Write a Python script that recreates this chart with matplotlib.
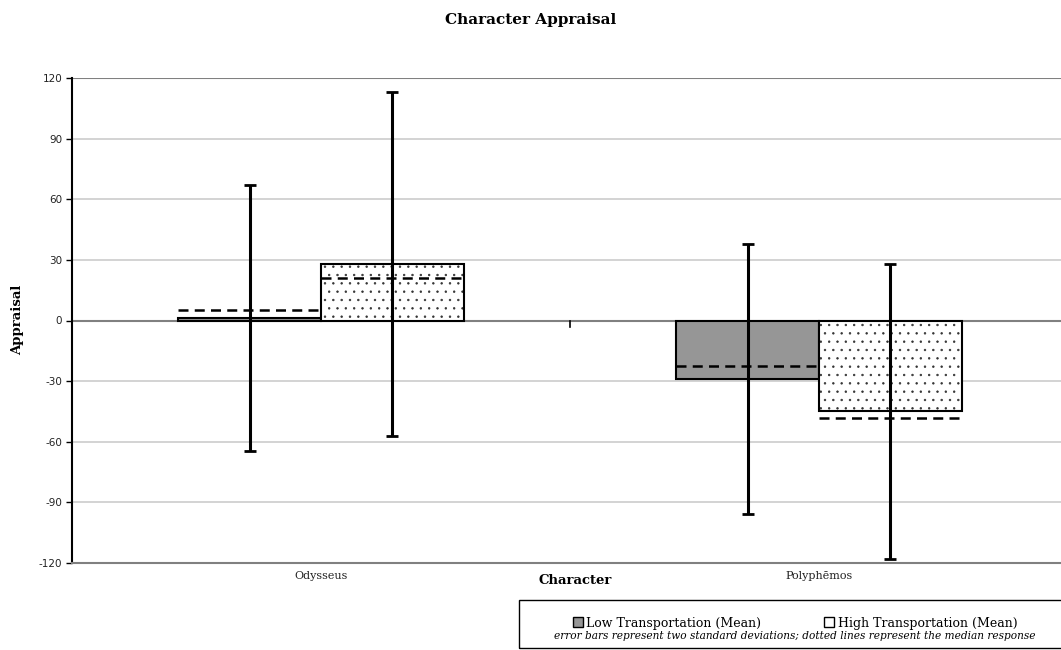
import numpy as np
import matplotlib.pyplot as plt
from matplotlib.patches import Patch, Rectangle

characters = ['Odysseus', 'Polyphēmos']
series = ['Low Transportation (Mean)', 'High Transportation (Mean)']
mean_low = [1.2, -29.0]
mean_high = [28.0, -45.0]
median_low = [5.3, -22.7]
median_high = [21.1, -48.1]
twosd_low = [66.0, 66.7]
twosd_high = [85.0, 72.8]
yticks = [-120, -90, -60, -30, 0, 30, 60, 90, 120]

serif = ['DejaVu Serif']
W, H = 1061, 650
fig = plt.figure(figsize=(W / 100, H / 100), dpi=100)
ax = fig.add_axes([72 / W, 1 - 563 / H, 996 / W, 485 / H])

x = np.arange(len(characters))
bw = 0.287
fills = ['#969696', 'white']
hatches = [None, '..']
means = [mean_low, mean_high]
medians = [median_low, median_high]
sds = [twosd_low, twosd_high]

plt.rcParams['hatch.linewidth'] = 0.5
plt.rcParams['hatch.color'] = '#333333'
for i in range(2):
    xs = x + (i - 0.5) * bw
    ax.bar(xs, means[i], width=bw, color=fills[i], hatch=hatches[i],
           linewidth=0, zorder=3)
    ax.bar(xs, means[i], width=bw, fill=False, edgecolor='black',
           linewidth=1.5, zorder=3)
    # medians as dashed lines across each bar
    ax.hlines(medians[i], xs - bw / 2, xs + bw / 2, colors='black',
              linestyles=(0, (4, 2.5)), linewidth=1.8, zorder=4)
    ax.errorbar(xs, means[i], yerr=sds[i], fmt='none', ecolor='black',
                elinewidth=2.2, capsize=4, capthick=2, zorder=5)

ax.set_xlim(-0.5, 1.5)
ax.set_ylim(-120, 120)
ax.set_yticks(yticks)
ax.set_yticklabels([str(v) for v in yticks], fontsize=7.5, color='#222222')
ax.set_xticks(x)
ax.set_xticklabels(characters, fontsize=8, family=serif, color='#222222')
ax.tick_params(axis='x', length=0, pad=6)
ax.tick_params(axis='y', length=4, width=1, direction='out', pad=3)

for y in yticks:
    if y in (0, 120):
        continue
    ax.axhline(y, color='#c8c8c8', linewidth=1.1, zorder=1)
ax.axhline(120, color='#808080', linewidth=1.5, zorder=1)
ax.axhline(0, color='#808080', linewidth=1.5, zorder=2)
ax.axvline(0.5, ymin=0.487, ymax=0.5, color='black', linewidth=1.2, zorder=2)

for s in ['top', 'right']:
    ax.spines[s].set_visible(False)
ax.spines['bottom'].set_color('#808080')
ax.spines['bottom'].set_linewidth(1.5)
ax.spines['left'].set_linewidth(1.5)

fig.text(575 / W, 1 - 580 / H, 'Character', fontsize=9.5, fontweight='bold',
         family=serif, ha='center', va='center')
fig.text(18 / W, 1 - 320 / H, 'Appraisal', fontsize=9.5, fontweight='bold',
         family=serif, ha='center', va='center', rotation=90)
fig.text(531 / W, 1 - 20 / H, 'Character Appraisal', fontsize=11,
         fontweight='bold', family=serif, ha='center', va='center')

# legend box along the bottom right
fig.patches.append(Rectangle((519 / W, 2 / H), 600 / W, 48 / H,
                             transform=fig.transFigure, fill=False,
                             edgecolor='black', linewidth=1))
handles = [Patch(facecolor=fills[0], edgecolor='black', label=series[0]),
           Patch(facecolor=fills[1], edgecolor='black', label=series[1])]
fig.legend(handles=handles, loc='center', ncol=2,
           bbox_to_anchor=(795 / W, 1 - 623 / H), frameon=False,
           prop={'family': serif, 'size': 9}, handlelength=0.8,
           handleheight=0.8, handletextpad=0.3, columnspacing=5.0,
           borderpad=0)
fig.text(795 / W, 1 - 636 / H,
         'error bars represent two standard deviations; dotted lines represent the median response',
         fontsize=7.6, style='italic', family=serif, ha='center', va='center')

fig.savefig('out.png', dpi=100)
